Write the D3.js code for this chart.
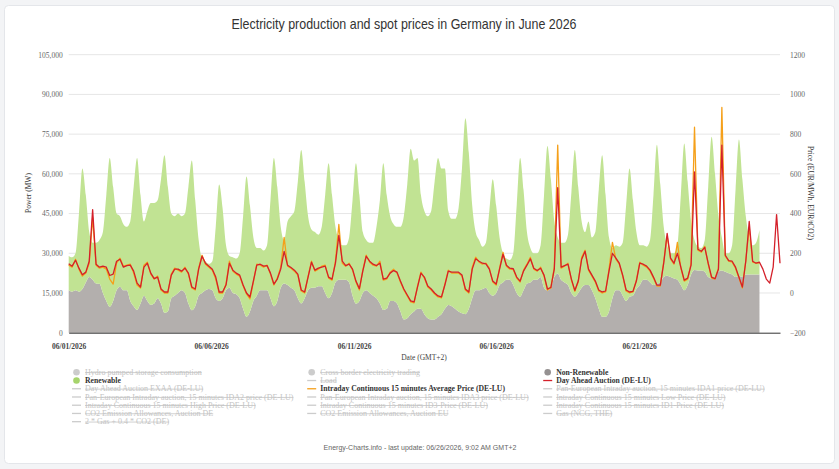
<!DOCTYPE html>
<html>
<head>
<meta charset="utf-8">
<script src="https://cdn.jsdelivr.net/npm/d3@7"></script>
<style>
  body { margin: 0; background: #f3f4f6; }
  svg { display: block; }
</style>
</head>
<body>
<div id="chart"></div>
<script>
'use strict';

// Samples every 3 hours, starting 06/01/2026 00:00 (GMT+2)
const stepHours = 3;

// Non-renewable production (MW)
const nonRenewable = [
  16000, 15500, 16000, 15500, 16500, 19000, 21000, 20000, // 06/01
  18600, 18500, 15000, 12000, 9800, 12000, 16000, 17400,
  16000, 16000, 12000, 10000, 8600, 11000, 14000, 12000,
  10500, 11000, 13000, 11000, 7500, 8000, 13000, 14000,
  15000, 16000, 15000, 11000, 8500, 10000, 14000, 15000,
  16000, 16500, 16000, 13000, 12000, 13000, 16000, 17000, // 06/06
  15000, 14500, 13000, 9000, 6000, 8000, 12000, 14000,
  16000, 16000, 16000, 13000, 10000, 12000, 17000, 18600,
  18000, 17000, 16000, 13000, 11000, 13000, 16000, 17000,
  17000, 17500, 17500, 15000, 13000, 15000, 19000, 20000,
  20000, 20000, 19000, 14000, 11000, 12000, 15000, 16000, // 06/11
  15000, 14000, 13000, 11000, 8600, 9000, 12000, 12000,
  11000, 8000, 5000, 5500, 7000, 8000, 9000, 9000,
  7000, 5500, 5000, 5000, 6000, 7000, 9000, 10500,
  10000, 9000, 8000, 7300, 7000, 9000, 13000, 16000,
  16000, 16500, 17000, 15000, 14000, 15000, 18000, 19000, // 06/16
  20000, 20000, 18000, 15000, 13600, 16000, 18600, 19000,
  20000, 20000, 21000, 17000, 16000, 17000, 21000, 22400,
  20000, 19000, 18000, 15000, 13600, 15000, 17000, 18000,
  18000, 16000, 13000, 9000, 6000, 6000, 8000, 13000,
  16000, 16000, 14000, 12000, 13600, 14000, 16500, 18000, // 06/21
  20000, 20000, 19000, 18000, 18600, 19000, 21000, 21500,
  21000, 20500, 20000, 18000, 16000, 18000, 22000, 23700,
  23500, 23500, 23000, 21000, 20500, 21000, 23000, 23500,
  23000, 22500, 22000, 21000, 21500, 21000, 22000, 22000,
  22000, 22000, 22000                                      // 06/26
];

// Renewable production (MW)
const renewable = [
  13000, 13000, 14000, 29500, 45500, 33000, 17000, 14000, // 06/01
  15400, 16500, 23000, 40000, 56200, 43000, 29000, 26600,
  25000, 24000, 30000, 45000, 57400, 41000, 28000, 34000,
  38500, 38000, 37000, 47000, 59500, 47000, 32000, 30000,
  30000, 28000, 30000, 44000, 56500, 40000, 21000, 13000,
  11000, 9500, 11000, 27000, 44000, 34000, 17000, 12000, // 06/06
  13500, 13500, 17000, 35000, 53000, 40000, 24000, 18000,
  16000, 15000, 17000, 37000, 56000, 43000, 23000, 16400,
  24000, 27000, 30000, 44000, 58000, 44000, 28000, 22000,
  21000, 19500, 22500, 37000, 51000, 37000, 21000, 15000,
  13000, 13000, 17000, 36000, 53000, 40000, 23000, 19000, // 06/11
  19000, 20000, 27000, 39000, 55400, 43000, 32000, 29000,
  29000, 32000, 39000, 50500, 62500, 57000, 57000, 43000,
  39000, 38500, 41000, 52000, 60000, 55000, 53000, 35500,
  33000, 34000, 39000, 54700, 74000, 59000, 35000, 22000,
  19000, 16000, 17000, 31000, 44000, 33000, 18000, 11000, // 06/16
  8000, 7500, 12000, 33000, 52400, 38000, 19400, 13000,
  10000, 10000, 12000, 35000, 54500, 41000, 21000, 13600,
  14000, 15000, 19000, 38000, 55400, 40000, 25000, 20000,
  24000, 20000, 25000, 45000, 61000, 46000, 28000, 19000,
  17000, 16500, 20000, 36000, 48400, 36000, 21500, 15000, // 06/21
  13000, 12500, 16000, 34000, 52400, 37000, 19000, 11500,
  9000, 9500, 13000, 34000, 55500, 39000, 20000, 11300,
  9000, 8500, 12000, 34000, 53500, 39000, 21000, 12500,
  7000, 7500, 11000, 33000, 51500, 37000, 22000, 14000,
  11000, 12000, 16800                                      // 06/26
];

// Day Ahead Auction (DE-LU), EUR/MWh
const dayAhead = [
  147, 135, 165, 125, 92, 105, 160, 420, // 06/01
  145, 130, 135, 130, 88, 95, 160, 170,
  130, 138, 140, 110, 50, 30, 130, 150,
  100, 72, 80, 20, 5, 5, 90, 120,
  120, 110, 125, 100, 30, 20, 120, 185,
  150, 135, 120, 80, 5, 5, 40, 150, // 06/06
  115, 100, 90, 40, 0, -20, 60, 140,
  145, 135, 138, 100, 45, 70, 120, 210,
  140, 128, 115, 95, 15, 5, 80, 155,
  115, 125, 130, 135, 80, 70, 150, 290,
  160, 138, 145, 120, 60, 22, 110, 185, // 06/11
  160, 145, 138, 150, 70, 75, 100, 113,
  105, 60, 20, -10, -40, -45, 30, 100,
  80, 35, 20, 0, -15, -20, 40, 110,
  105, 105, 105, 90, 20, 5, 120, 172,
  160, 150, 147, 120, 60, 45, 120, 195, // 06/16
  140, 125, 122, 80, 60, 110, 140, 172,
  125, 113, 125, 90, 20, 28, 120, 530,
  130, 138, 145, 70, 13, 60, 170, 210,
  120, 90, 60, 15, 5, 10, 110, 200,
  175, 150, 90, 15, 5, 8, 60, 150, // 06/21
  145, 135, 115, 80, 40, 40, 150, 300,
  175, 150, 200, 130, 65, 75, 140, 610,
  220, 210, 230, 150, 80, 72, 120, 745,
  190, 163, 160, 130, 80, 30, 160, 360,
  160, 150, 155, 120, 70, 50, 130, 395, // 06/26
  150
];

// Intraday Continuous 15 minutes Average Price (DE-LU), EUR/MWh
const intradayAvg = [
  140, 130, 170, 120, 85, 100, 150, 380, // 06/01
  140, 125, 130, 120, 70, 45, 150, 175,
  135, 140, 145, 100, 40, 25, 140, 155,
  95, 70, 85, 15, 0, 0, 95, 125,
  115, 105, 130, 95, 25, 15, 125, 190,
  145, 130, 115, 70, 0, 0, 45, 160, // 06/06
  110, 95, 85, 35, -5, -30, 55, 145,
  140, 130, 140, 95, 40, 75, 130, 280,
  135, 125, 110, 90, 10, 0, 85, 160,
  110, 120, 135, 140, 75, 65, 160, 345,
  150, 135, 150, 115, 55, 15, 115, 190, // 06/11
  155, 140, 135, 160, 65, 70, 105, 120,
  100, 55, 15, -15, -45, -50, 35, 105,
  75, 30, 15, -5, -20, -25, 45, 115,
  100, 100, 100, 85, 15, 0, 130, 180,
  155, 145, 150, 125, 55, 40, 125, 205, // 06/16
  135, 120, 118, 75, 55, 115, 145, 180,
  120, 110, 130, 85, 15, 25, 130, 745,
  125, 135, 150, 65, 8, 55, 180, 215,
  115, 85, 55, 10, 0, 5, 120, 255,
  170, 145, 85, 10, 0, 5, 65, 155, // 06/21
  140, 130, 110, 75, 35, 35, 160, 285,
  170, 145, 255, 125, 60, 70, 150, 835,
  215, 205, 235, 145, 75, 70, 125, 935,
  185, 160, 155, 125, 75, 25, 165, 330,
  155, 150, 150                         // 06/26
];

// Axis ticks
const powerTicks = [0, 15000, 30000, 45000, 60000, 75000, 90000, 105000];
const priceTicks = [-200, 0, 200, 400, 600, 800, 1000, 1200];
const xTickHours = [0, 125, 250.3, 375, 500.4];
const xTickLabels = ["06/01/2026", "06/06/2026", "06/11/2026", "06/16/2026", "06/21/2026"];

// Legend entries, row by row over three columns
const legendNames = [
  "Hydro pumped storage consumption", "Cross border electricity trading", "Non-Renewable",
  "Renewable", "Load", "Day Ahead Auction (DE-LU)",
  "Day Ahead Auction EXAA (DE-LU)", "Intraday Continuous 15 minutes Average Price (DE-LU)", "Pan-European Intraday auction, 15 minutes IDA1 price (DE-LU)",
  "Pan-European Intraday auction, 15 minutes IDA2 price (DE-LU)", "Pan-European Intraday auction, 15 minutes IDA3 price (DE-LU)", "Intraday Continuous 15 minutes Low Price (DE-LU)",
  "Intraday Continuous 15 minutes High Price (DE-LU)", "Intraday Continuous 15 minutes ID3-Price (DE-LU)", "Intraday Continuous 15 minutes ID1-Price (DE-LU)",
  "CO2 Emission Allowances, Auction DE", "CO2 Emission Allowances, Auction EU", "Gas (NCG, THE)",
  "2 * Gas + 0.4 * CO2 (DE)"
];
const legendSymbols = [
  "circle", "circle", "circle",
  "circle", "line", "line",
  "line", "line", "line",
  "line", "line", "line",
  "line", "line", "line",
  "line", "line", "line",
  "line"
];
const legendShown = [
  false, false, true,
  true, false, true,
  false, true, false,
  false, false, false,
  false, false, false,
  false, false, false,
  false
];

const colors = {
  nonRenewable: "#b3afad",
  nonRenewableMark: "#959191",
  renewable: "#c1e393",
  renewableMark: "#a6d46c",
  dayAhead: "#d4202a",
  intraday: "#f5a01a",
  hidden: "#cccccc"
};

const width = 839;
const height = 469;
const margin = {left: 68.7, right: 780, top: 54.7, bottom: 332.7};

const svg = d3.select("#chart").append("svg")
    .attr("width", width)
    .attr("height", height);

// Chart panel
svg.append("rect")
    .attr("x", 4.5).attr("y", 5.5)
    .attr("width", 830).attr("height", 458)
    .attr("rx", 4)
    .attr("fill", "#ffffff")
    .attr("stroke", "#e4e6ea");

const x = d3.scaleLinear().domain([0, 624]).range([margin.left, margin.right]);
const yPower = d3.scaleLinear().domain([0, 105000]).range([margin.bottom, margin.top]);
const yPrice = d3.scaleLinear().domain([-200, 1200]).range([margin.bottom, margin.top]);

// Grid lines
svg.append("g").selectAll("line")
    .data(powerTicks.slice(1))
    .enter().append("line")
    .attr("x1", margin.left).attr("x2", margin.right)
    .attr("y1", d => yPower(d)).attr("y2", d => yPower(d))
    .attr("stroke", "#e6e6e6")
    .attr("stroke-width", 1);

// Stacked production areas
const production = nonRenewable.map((v, i) => ({
  hour: i * stepHours,
  nonRenewable: v,
  renewable: renewable[i]
}));

const stack = d3.stack().keys(["nonRenewable", "renewable"]);
const layers = stack(production);

const area = d3.area()
    .curve(d3.curveMonotoneX)
    .x(d => x(d.data.hour))
    .y0(d => yPower(d[0]))
    .y1(d => yPower(d[1]));

svg.append("g").selectAll("path")
    .data(layers)
    .enter().append("path")
    .attr("d", area)
    .attr("fill", d => d.key === "renewable" ? colors.renewable : colors.nonRenewable);

// Price lines
const priceLine = d3.line()
    .x((d, i) => x(i * stepHours))
    .y(d => yPrice(d));

svg.append("path")
    .datum(intradayAvg)
    .attr("d", priceLine)
    .attr("fill", "none")
    .attr("stroke", colors.intraday)
    .attr("stroke-width", 1.3)
    .attr("stroke-linejoin", "round");

svg.append("path")
    .datum(dayAhead)
    .attr("d", priceLine)
    .attr("fill", "none")
    .attr("stroke", colors.dayAhead)
    .attr("stroke-width", 1.3)
    .attr("stroke-linejoin", "round");

// Axes
const tickFont = "'Liberation Serif', 'DejaVu Serif', serif";

const leftAxis = svg.append("g")
    .attr("transform", "translate(" + margin.left + ",0)")
    .call(d3.axisLeft(yPower).tickValues(powerTicks).tickSize(0).tickPadding(6)
      .tickFormat(d3.format(",")));
leftAxis.select(".domain").remove();

const rightAxis = svg.append("g")
    .attr("transform", "translate(" + margin.right + ",0)")
    .call(d3.axisRight(yPrice).tickValues(priceTicks).tickSize(0).tickPadding(10)
      .tickFormat(d3.format("d")));
rightAxis.select(".domain").remove();

const bottomAxis = svg.append("g")
    .attr("transform", "translate(0," + margin.bottom + ")")
    .call(d3.axisBottom(x).tickValues(xTickHours).tickSize(0).tickSizeOuter(0).tickPadding(11)
      .tickFormat((d, i) => xTickLabels[i]));
bottomAxis.select(".domain").attr("stroke", "#333").attr("stroke-width", 1);
bottomAxis.selectAll("text").attr("fill", "#444").style("font-weight", "bold");

svg.selectAll(".tick text")
    .style("font-family", tickFont)
    .style("font-size", "7.5px");
leftAxis.selectAll("text").attr("fill", "#666");
rightAxis.selectAll("text").attr("fill", "#666");

// Axis titles
svg.append("text")
    .attr("transform", "translate(31,193) rotate(-90)")
    .attr("text-anchor", "middle")
    .style("font-family", tickFont).style("font-size", "7.5px")
    .attr("fill", "#333")
    .text("Power (MW)");

svg.append("text")
    .attr("transform", "translate(808,193) rotate(90)")
    .attr("text-anchor", "middle")
    .style("font-family", tickFont).style("font-size", "7.5px")
    .attr("fill", "#333")
    .text("Price (EUR/MWh, EUR/tCO2)");

svg.append("text")
    .attr("x", 424).attr("y", 360)
    .attr("text-anchor", "middle")
    .style("font-family", tickFont).style("font-size", "7.5px")
    .attr("fill", "#444")
    .text("Date (GMT+2)");

// Title
const title = svg.append("text")
    .attr("x", 404).attr("y", 29)
    .attr("text-anchor", "middle")
    .style("font-family", "'Liberation Sans Narrow', 'Liberation Sans', Arial, sans-serif")
    .style("font-size", "15px")
    .attr("fill", "#333")
    .text("Electricity production and spot prices in Germany in June 2026");
if (title.node().getComputedTextLength() > 360) {
  title.attr("textLength", 345).attr("lengthAdjust", "spacingAndGlyphs");
}

// Legend
const legendCols = [76.5, 311.7, 547.7];
const legendTop = 372.3;
const legendStep = 8.23;

const legend = svg.append("g");
legendNames.forEach((name, i) => {
  const cx = legendCols[i % 3];
  const cy = legendTop + Math.floor(i / 3) * legendStep;
  let color = colors.hidden;
  if (legendShown[i]) {
    if (name === "Non-Renewable") color = colors.nonRenewableMark;
    else if (name === "Renewable") color = colors.renewableMark;
    else if (name.startsWith("Day Ahead")) color = colors.dayAhead;
    else color = colors.intraday;
  }
  if (legendSymbols[i] === "circle") {
    legend.append("circle")
        .attr("cx", cx).attr("cy", cy).attr("r", 3.3)
        .attr("fill", color);
  } else {
    legend.append("line")
        .attr("x1", cx - 4.5).attr("x2", cx + 4.5)
        .attr("y1", cy).attr("y2", cy)
        .attr("stroke", color).attr("stroke-width", 1.3);
  }
  legend.append("text")
      .attr("x", cx + 8.5).attr("y", cy + 2.7)
      .style("font-family", tickFont)
      .style("font-size", legendShown[i] ? "7.7px" : "8px")
      .style("font-weight", legendShown[i] ? "bold" : "normal")
      .style("text-decoration", legendShown[i] ? "none" : "line-through")
      .attr("fill", legendShown[i] ? "#333" : "#c4c4c4")
      .text(name);
});

// Footer
svg.append("text")
    .attr("x", 420).attr("y", 450)
    .attr("text-anchor", "middle")
    .style("font-family", "'Liberation Sans', Arial, sans-serif")
    .style("font-size", "7px")
    .attr("fill", "#666")
    .text("Energy-Charts.info - last update: 06/26/2026, 9:02 AM GMT+2");
</script>
</body>
</html>
